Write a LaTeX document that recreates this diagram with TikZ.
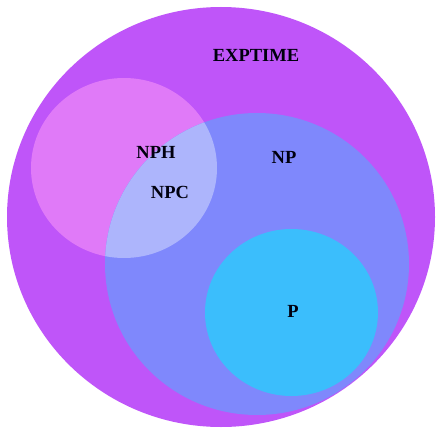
\documentclass[tikz,border=0pt]{standalone}
\usepackage{fontspec}
\setmainfont{Liberation Serif}
\begin{document}
\begin{tikzpicture}[x=1pt,y=-1pt,
  setlabel/.style={font=\bfseries\fontsize{18.5}{21}\selectfont, text=black!90!blue!60!black, inner sep=0pt}]
\definecolor{expc}{HTML}{BF55F9}
\definecolor{nphc}{HTML}{E07AF8}
\definecolor{npc}{HTML}{7F88FC}
\definecolor{npcc}{HTML}{ADB5FC}
\definecolor{pc}{HTML}{3BBEFC}
\useasboundingbox[fill=white] (0,0) rectangle (436,428);
% EXPTIME
\fill[expc] (221,217) ellipse [x radius=214, y radius=210];
% NP-hard
\fill[nphc] (124,168) ellipse [x radius=93, y radius=90];
% NP
\fill[npc] (257,264) ellipse [x radius=152, y radius=151];
% NP-complete = NP-hard intersected with NP
\begin{scope}
  \clip (124,168) ellipse [x radius=93, y radius=90];
  \fill[npcc] (257,264) ellipse [x radius=152, y radius=151];
\end{scope}
% P
\fill[pc] (291.5,312.5) ellipse [x radius=86.5, y radius=83.5];
% labels
\node[setlabel] (exptime) at (256,55) {EXPTIME};
\node[setlabel] (nph) at (156,152) {NPH};
\node[setlabel] (np) at (284,157) {NP};
\node[setlabel] (npcl) at (170,192) {NPC};
\node[setlabel] (p) at (293,311) {P};
\end{tikzpicture}
\end{document}
